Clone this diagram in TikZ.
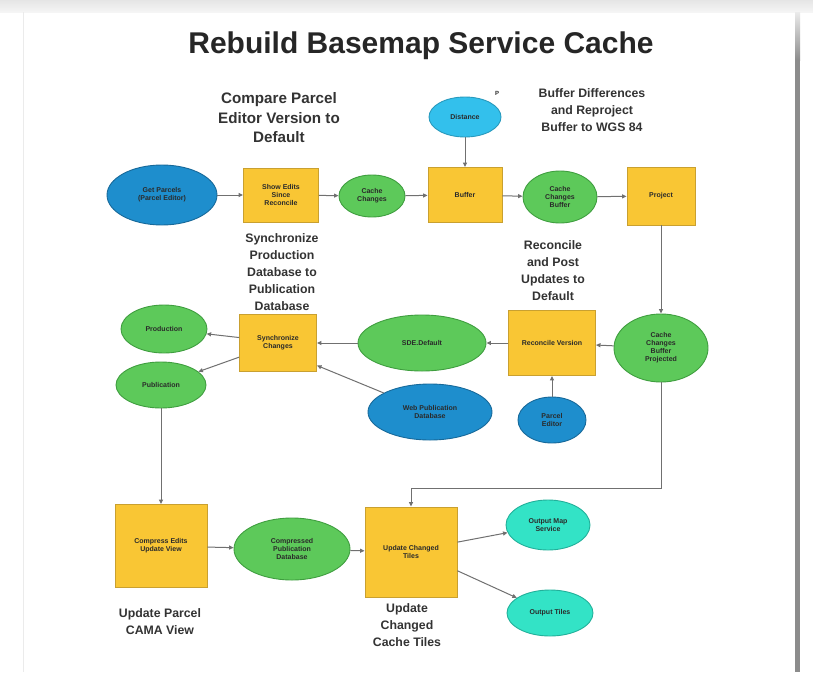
\documentclass[tikz,border=0pt]{standalone}
\usepackage{fontspec}
\setmainfont{Liberation Sans}
\usetikzlibrary{shapes.geometric,arrows.meta}
\definecolor{boxfill}{HTML}{F9C634}
\definecolor{boxline}{HTML}{C9A030}
\definecolor{greenfill}{HTML}{5DC95A}
\definecolor{greenline}{HTML}{3F9E3F}
\definecolor{bluefill}{HTML}{1E8ECD}
\definecolor{blueline}{HTML}{17699A}
\definecolor{skyfill}{HTML}{33C0EC}
\definecolor{tealfill}{HTML}{33E3C6}
\definecolor{tealline}{HTML}{22B09A}
\definecolor{lnc}{HTML}{707070}
\definecolor{txt}{HTML}{2A2A2A}
\begin{document}
\begin{tikzpicture}[x=1pt,y=-1pt,
  nodefont/.style={font=\bfseries\fontsize{7}{8}\selectfont,text=txt},
  tool/.style={draw=boxline,fill=boxfill,line width=0.9pt,inner sep=1pt,align=center,nodefont},
  gdata/.style={ellipse,draw=greenline,fill=greenfill,line width=0.9pt,inner sep=0pt,align=center,nodefont},
  bdata/.style={ellipse,draw=blueline,fill=bluefill,line width=0.9pt,inner sep=0pt,align=center,nodefont},
  sdata/.style={ellipse,draw=skyfill!80!black,fill=skyfill,line width=0.9pt,inner sep=0pt,align=center,nodefont},
  tdata/.style={ellipse,draw=tealline,fill=tealfill,line width=0.9pt,inner sep=0pt,align=center,nodefont},
  conn/.style={draw=lnc,line width=1pt,-{Triangle[length=4.5pt,width=4pt]}},
  captext/.style={align=center,text=black!80,font=\bfseries\fontsize{12.3}{17}\selectfont},
  captextb/.style={align=center,text=black!80,font=\bfseries\fontsize{15.2}{19.5}\selectfont}
]
\useasboundingbox (0,0) rectangle (813,672);
\fill[white] (0,0) rectangle (813,672);
\shade[top color=black!10,bottom color=black!4] (0,0) rectangle (813,12);
\draw[black!8,line width=0.6pt] (23,12) -- (23,672);
\fill[black!45] (795,12) rectangle (800,672);
\shade[top color=black!8,bottom color=black!45] (795,12) rectangle (800,60);

% title
\node[font=\bfseries\fontsize{30}{34}\selectfont,text=black!85] (title) at (421,46) {Rebuild Basemap Service Cache};

% captions
\node[captextb] (c1) at (279,118) {Compare Parcel\\Editor Version to\\Default};
\node[captext] (c2) at (592,110) {Buffer Differences\\and Reproject\\Buffer to WGS 84};
\node[captext] (c3) at (282,272) {Synchronize\\Production\\Database to\\Publication\\Database};
\node[captext] (c4) at (553,271) {Reconcile\\and Post\\Updates to\\Default};
\node[captext] (c5) at (160,622) {Update Parcel\\CAMA View};
\node[captext] (c6) at (407,625) {Update\\Changed\\Cache Tiles};

% top row
\node[bdata,minimum width=110pt,minimum height=60pt] (gp) at (162,195) {Get Parcels\\(Parcel Editor)};
\node[tool,minimum width=75pt,minimum height=54pt] (se) at (281,195) {Show Edits\\Since\\Reconcile};
\node[gdata,minimum width=66pt,minimum height=42pt] (cc) at (372,196) {Cache\\Changes};
\node[tool,minimum width=74pt,minimum height=55pt] (buf) at (465,195) {Buffer};
\node[sdata,minimum width=72pt,minimum height=40pt] (dist) at (465,117) {Distance};
\node[font=\bfseries\fontsize{6}{7}\selectfont,text=txt] (pmark) at (497,93) {P};
\node[gdata,minimum width=74pt,minimum height=52pt] (ccb) at (560,197) {Cache\\Changes\\Buffer};
\node[tool,minimum width=68pt,minimum height=58pt] (proj) at (661,196) {Project};

% middle row
\node[gdata,minimum width=94pt,minimum height=68pt] (ccbp) at (661,348) {Cache\\Changes\\Buffer\\Projected};
\node[tool,minimum width=87pt,minimum height=65pt] (rec) at (552,343) {Reconcile Version};
\node[bdata,minimum width=68pt,minimum height=46pt] (ped) at (552,420) {Parcel\\Editor};
\node[gdata,minimum width=128pt,minimum height=56pt] (sde) at (422,343) {SDE.Default};
\node[bdata,minimum width=124pt,minimum height=56pt] (web) at (430,412) {Web Publication\\Database};
\node[tool,minimum width=77pt,minimum height=57pt] (sync) at (278,343) {Synchronize\\Changes};
\node[gdata,minimum width=86pt,minimum height=48pt] (prod) at (164,329) {Production};
\node[gdata,minimum width=90pt,minimum height=46pt] (pub) at (161,385) {Publication};

% bottom row
\node[tool,minimum width=92pt,minimum height=83pt] (comp) at (161,546) {Compress Edits\\Update View};
\node[gdata,minimum width=116pt,minimum height=62pt] (cpd) at (292,549) {Compressed\\Publication\\Database};
\node[tool,minimum width=92pt,minimum height=90pt] (uct) at (411,552) {Update Changed\\Tiles};
\node[tdata,minimum width=84pt,minimum height=50pt] (oms) at (548,525) {Output Map\\Service};
\node[tdata,minimum width=86pt,minimum height=46pt] (ot) at (550,613) {Output Tiles};

% connectors
\draw[conn] (gp) -- (se);
\draw[conn] (se) -- (cc);
\draw[conn] (cc) -- (buf);
\draw[conn] (dist) -- (buf);
\draw[conn] (buf) -- (ccb);
\draw[conn] (ccb) -- (proj);
\draw[conn] (proj) -- (ccbp);
\draw[conn] (ccbp) -- (rec);
\draw[conn] (rec) -- (sde);
\draw[conn] (ped) -- (rec);
\draw[conn] (sde) -- (sync);
\draw[conn] (web) -- (sync.-30);
\draw[conn] (sync.172) -- (prod);
\draw[conn] (sync.200) -- (pub);
\draw[conn] (pub) -- (comp);
\draw[conn] (comp) -- (cpd);
\draw[conn] (cpd) -- (uct);
\draw[conn] (ccbp.south) -- ++(0,106) -| (uct.north);
\draw[conn] (uct.12) -- (oms);
\draw[conn] (uct.-22) -- (ot);
\end{tikzpicture}
\end{document}
